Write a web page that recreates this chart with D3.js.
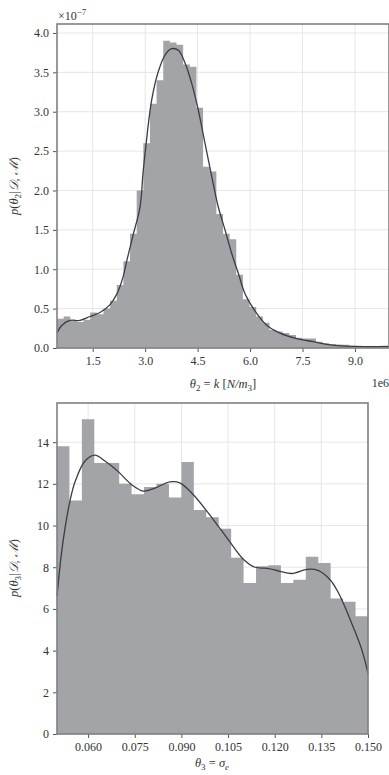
<!DOCTYPE html>
<html>
<head>
<meta charset="utf-8">
<script src="https://cdn.jsdelivr.net/npm/d3@7"></script>
<style>
  body{margin:0;background:#fff;}
  svg text{font-family:"Liberation Serif","DejaVu Serif",serif;fill:#333;}
</style>
</head>
<body>
<svg id="chart" width="389" height="775"></svg>
<script>
// top panel: theta2 = k, values x 1e6 and density x 1e-7
var topBins=[0.37,0.40,0.35,0.33,0.36,0.45,0.43,0.50,0.60,0.80,
             1.10,1.45,2.00,2.60,3.10,3.40,3.90,3.88,3.85,3.60,
             3.57,3.05,2.30,2.24,1.70,1.45,1.38,0.93,0.62,0.52,
             0.40,0.32,0.23,0.21,0.19,0.165,0.13,0.12,0.12,0.08,
             0.06,0.05,0.045,0.04,0.03,0.03,0.025,0.02,0.02,0.02];
var topStart=0.479, topEnd=9.973;
var topKdeX=[0.479,0.622,0.851,1.137,1.423,1.709,1.995,2.195,2.367,2.481,2.653,2.853,2.939,
             3.0,3.187,3.376,3.568,3.759,3.948,4.140,4.331,4.520,4.711,4.903,5.092,5.283,
             5.475,5.664,5.855,6.190,6.476,6.856,7.334,7.808,8.286,8.944,9.973];
var topKdeY=[0.19,0.29,0.35,0.35,0.40,0.45,0.55,0.69,0.90,1.12,1.43,1.79,2.22,
             2.48,3.15,3.51,3.72,3.80,3.78,3.62,3.36,3.02,2.60,2.18,1.79,1.50,
             1.20,0.95,0.69,0.44,0.29,0.19,0.12,0.08,0.04,0.02,0.02];
var topXTicks=[1.5,3.0,4.5,6.0,7.5,9.0];
var topYTicks=[0,0.5,1,1.5,2,2.5,3,3.5,4];

// bottom panel: theta3 = sigma_e
var botBins=[13.8,11.2,15.1,13.0,13.0,12.0,11.5,11.85,12.0,11.35,
             13.05,10.75,10.4,9.85,8.45,7.25,8.05,8.1,7.25,7.4,
             8.5,8.2,6.5,6.35,5.65];
var botStart=0.050, botEnd=0.150;
var botKdeX=[0.0500,0.0513,0.0526,0.0542,0.0558,0.0590,0.0622,0.0654,0.0696,0.0741,0.0777,
             0.0815,0.0863,0.0895,0.0937,0.1002,0.1047,0.1098,0.1137,0.1178,0.1217,0.1256,
             0.1304,0.1339,0.1378,0.1404,0.1420,0.1452,0.1481,0.1500];
var botKdeY=[6.6,8.5,9.9,11.2,12.1,13.1,13.38,13.1,12.6,11.95,11.65,
             11.8,12.1,12.05,11.5,10.3,9.4,8.4,8.0,7.95,7.8,7.7,
             7.9,7.85,7.4,6.8,6.3,5.15,4.0,2.9];
var botXTicks=[0.060,0.075,0.090,0.105,0.120,0.135,0.150];
var botYTicks=[0,2,4,6,8,10,12,14];

var svg=d3.select("#chart");
var barColor="#a3a4a7", lineColor="#3a3d46", gridColor="#e6e6e6", spineColor="#808080";

function panel(o){
  var g=svg.append("g");
  var x=d3.scaleLinear().domain(o.xDomain).range([o.left,o.right]);
  var y=d3.scaleLinear().domain(o.yDomain).range([o.bottom,o.top]);

  // grid
  g.selectAll("line.vg").data(o.xTicks).enter().append("line")
    .attr("x1",function(d){return x(d);}).attr("x2",function(d){return x(d);})
    .attr("y1",o.top).attr("y2",o.bottom)
    .attr("stroke",gridColor).attr("stroke-width",1);
  g.selectAll("line.hg").data(o.yTicks).enter().append("line")
    .attr("y1",function(d){return y(d);}).attr("y2",function(d){return y(d);})
    .attr("x1",o.left).attr("x2",o.right)
    .attr("stroke",gridColor).attr("stroke-width",1);

  // bars, drawn as one path so neighbours do not leave seams
  var w=(o.binEnd-o.binStart)/o.bins.length;
  var p=d3.path();
  p.moveTo(x(o.binStart),y(0));
  o.bins.forEach(function(d,i){
    p.lineTo(x(o.binStart+i*w),y(d));
    p.lineTo(x(o.binStart+(i+1)*w),y(d));
  });
  p.lineTo(x(o.binEnd),y(0));
  p.closePath();
  g.append("path").attr("d",p.toString()).attr("fill",barColor);

  // kde
  var pts=o.kdeX.map(function(d,i){return [d,o.kdeY[i]];});
  var line=d3.line().x(function(d){return x(d[0]);}).y(function(d){return y(d[1]);})
    .curve(d3.curveCatmullRom.alpha(0.5));
  g.append("path").attr("d",line(pts)).attr("fill","none")
    .attr("stroke",lineColor).attr("stroke-width",1.3);

  // axes
  var xa=g.append("g").attr("transform","translate(0,"+o.bottom+")")
    .call(d3.axisBottom(x).tickValues(o.xTicks).tickSize(4).tickPadding(4).tickFormat(o.xFmt));
  var ya=g.append("g").attr("transform","translate("+o.left+",0)")
    .call(d3.axisLeft(y).tickValues(o.yTicks).tickSize(4).tickPadding(4).tickFormat(o.yFmt));
  [xa,ya].forEach(function(a){
    a.select(".domain").remove();
    a.selectAll(".tick line").attr("stroke","#555");
    a.selectAll(".tick text").attr("font-size",12).attr("fill","#333")
      .style("font-family","'Liberation Serif',serif");
  });

  // spines
  g.append("rect").attr("x",o.left).attr("y",o.top)
    .attr("width",o.right-o.left).attr("height",o.bottom-o.top)
    .attr("fill","none").attr("stroke",spineColor).attr("stroke-width",1.6);
  return {x:x,y:y};
}

panel({left:57,right:389,top:24,bottom:348,
  xDomain:[topStart,topEnd],yDomain:[0,4.114],
  bins:topBins,binStart:topStart,binEnd:topEnd,kdeX:topKdeX,kdeY:topKdeY,
  xTicks:topXTicks,yTicks:topYTicks,
  xFmt:d3.format(".1f"),yFmt:d3.format(".1f")});

panel({left:57,right:368,top:403,bottom:734,
  xDomain:[botStart,botEnd],yDomain:[0,15.88],
  bins:botBins,binStart:botStart,binEnd:botEnd,kdeX:botKdeX,kdeY:botKdeY,
  xTicks:botXTicks,yTicks:botYTicks,
  xFmt:d3.format(".3f"),yFmt:d3.format("d")});

// labels
var t1=svg.append("text").attr("x",58).attr("y",20).attr("font-size",12);
t1.append("tspan").text("\u00d710");
t1.append("tspan").attr("font-size",9).attr("dy",-5).text("\u22127");

svg.append("text").attr("x",389).attr("y",387).attr("text-anchor","end")
  .attr("font-size",12).text("1e6");

var xl1=svg.append("text").attr("x",223).attr("y",388).attr("text-anchor","middle")
  .attr("font-size",12.5).attr("font-style","italic");
xl1.append("tspan").text("\u03b8");
xl1.append("tspan").attr("font-size",9).attr("dy",3).attr("font-style","normal").text("2");
xl1.append("tspan").attr("dy",-3).attr("font-style","normal").text(" = ");
xl1.append("tspan").text("k ");
xl1.append("tspan").attr("font-style","normal").text("[");
xl1.append("tspan").text("N/m");
xl1.append("tspan").attr("font-size",9).attr("dy",3).attr("font-style","normal").text("3");
xl1.append("tspan").attr("dy",-3).attr("font-style","normal").text("]");

var xl2=svg.append("text").attr("x",212).attr("y",767).attr("text-anchor","middle")
  .attr("font-size",12.5).attr("font-style","italic");
xl2.append("tspan").text("\u03b8");
xl2.append("tspan").attr("font-size",9).attr("dy",3).attr("font-style","normal").text("3");
xl2.append("tspan").attr("dy",-3).attr("font-style","normal").text(" = ");
xl2.append("tspan").text("\u03c3");
xl2.append("tspan").attr("font-size",9).attr("dy",3).text("e");

function ylab(cx,cy,n){
  var t=svg.append("text").attr("transform","translate("+cx+","+cy+") rotate(-90)")
    .attr("text-anchor","middle").attr("font-size",12.5).attr("font-style","italic");
  t.append("tspan").text("p");
  t.append("tspan").attr("font-style","normal").text("(");
  t.append("tspan").text("\u03b8");
  t.append("tspan").attr("font-size",9).attr("dy",3).attr("font-style","normal").text(n);
  t.append("tspan").attr("dy",-3).attr("font-style","normal").text("|");
  t.append("tspan").text("\ud835\udc9f");
  t.append("tspan").attr("font-style","normal").text(", ");
  t.append("tspan").text("\u2133");
  t.append("tspan").attr("font-style","normal").text(")");
}
ylab(18,186,"2");
ylab(18,568,"3");
</script>
</body>
</html>
